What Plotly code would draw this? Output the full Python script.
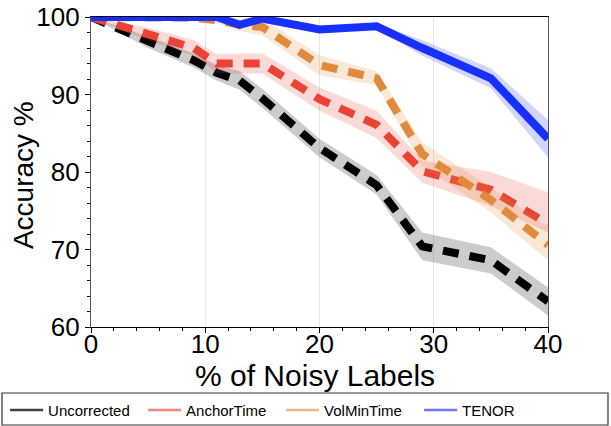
import plotly.graph_objects as go

noise = [0, 5, 9, 11, 13, 15, 20, 25, 29, 35, 40]

unc_mean = [100, 96.8, 94.4, 92.8, 91.8, 89.5, 83.1, 78.3, 70.4, 68.6, 63.3]
unc_up   = [100, 97.5, 95.3, 93.8, 93.0, 90.7, 84.3, 79.6, 72.2, 70.3, 65.1]
unc_lo   = [100, 96.0, 93.5, 91.8, 90.6, 88.3, 81.9, 77.1, 68.6, 66.9, 61.5]

anc_mean = [100, 97.8, 96.0, 94.0, 94.0, 94.0, 89.4, 86.1, 80.1, 77.7, 73.3]
anc_up   = [100, 98.6, 97.0, 95.2, 95.3, 95.3, 90.9, 87.9, 81.5, 80.0, 77.4]
anc_lo   = [100, 97.0, 95.0, 92.8, 92.7, 92.7, 87.9, 84.4, 78.6, 75.6, 72.2]

vol_mean = [100, 100, 99.9, 99.6, 99.0, 98.7, 93.8, 92.1, 82.3, 76.4, 70.6]
vol_up   = [100, 100, 100, 100, 99.8, 99.8, 95.1, 93.0, 83.8, 78.0, 72.9]
vol_lo   = [100, 100, 99.8, 99.2, 98.2, 97.6, 92.5, 91.2, 80.8, 74.8, 68.6]

ten_mean = [100, 100, 100, 100, 99.0, 99.8, 98.4, 98.8, 96.0, 92.1, 84.3]
ten_up   = [100, 100, 100, 100, 99.3, 100, 98.7, 99.1, 97.0, 93.4, 86.7]
ten_lo   = [100, 100, 100, 100, 98.7, 99.5, 98.1, 98.5, 95.0, 90.8, 81.9]

series_names = ["Uncorrected", "AnchorTime", "VolMinTime", "TENOR"]
x_ticks = [0, 10, 20, 30, 40]
y_ticks = [60, 70, 80, 90, 100]
x_title = "% of Noisy Labels"
y_title = "Accuracy %"

FONT = "Liberation Sans, Arial, sans-serif"

styles = [
    dict(mean=unc_mean, up=unc_up, lo=unc_lo, color="#000000", band="rgba(0,0,0,0.2)",
         dash="16px,11px", leg="#404040"),
    dict(mean=anc_mean, up=anc_up, lo=anc_lo, color="#ea4335", band="rgba(234,67,53,0.2)",
         dash="16px,11px", leg="#f08a80"),
    dict(mean=vol_mean, up=vol_up, lo=vol_lo, color="#e08a3c", band="rgba(224,138,60,0.2)",
         dash="16px,11px", leg="#f0b888"),
    dict(mean=ten_mean, up=ten_up, lo=ten_lo, color="#1730ff", band="rgba(23,48,255,0.2)",
         dash="solid", leg="#6a78ff"),
]

fig = go.Figure()
for name, s in zip(series_names, styles):
    fig.add_trace(go.Scatter(
        x=noise + noise[::-1], y=s["up"] + s["lo"][::-1], fill="toself",
        fillcolor=s["band"], line=dict(width=0), mode="lines",
        showlegend=False, hoverinfo="skip"))
    fig.add_trace(go.Scatter(
        x=noise, y=s["mean"], mode="lines",
        line=dict(color=s["color"], width=8, dash=s["dash"]),
        showlegend=False, name=name))

for name, s in zip(series_names, styles):
    fig.add_trace(go.Scatter(
        x=[None], y=[None], mode="lines", name=name,
        line=dict(color=s["leg"], width=2.5)))

fig.update_layout(
    width=611, height=426,
    margin=dict(l=91, r=63, t=17, b=99, autoexpand=False),
    paper_bgcolor="white", plot_bgcolor="white",
    font=dict(family=FONT, color="black"),
    showlegend=True,
    legend=dict(orientation="h", x=-0.188, xanchor="left", y=-0.215, yanchor="top",
                font=dict(size=15, family=FONT), bgcolor="rgba(0,0,0,0)",
                itemwidth=33, entrywidth=90, entrywidthmode="pixels", borderwidth=0),
    shapes=[dict(type="rect", xref="paper", yref="paper",
                 x0=(2 - 91) / 457, x1=(608 - 91) / 457,
                 y0=(327 - 425) / 310, y1=(327 - 393) / 310,
                 line=dict(color="#333333", width=1.2), fillcolor="rgba(0,0,0,0)")],
    annotations=[
        dict(text=x_title, xref="paper", yref="paper", x=0.49, y=(327 - 375) / 310,
             xanchor="center", yanchor="middle", showarrow=False,
             font=dict(size=30, family=FONT, color="black")),
        dict(text=y_title, xref="paper", yref="paper", x=(23 - 91) / 457, y=0.49,
             xanchor="center", yanchor="middle", showarrow=False, textangle=-90,
             font=dict(size=28, family=FONT, color="black")),
    ],
)

fig.update_xaxes(
    range=[0, 40], tickvals=x_ticks, ticktext=[str(v) for v in x_ticks],
    showgrid=True, gridcolor="#e6e6e6", gridwidth=1,
    zeroline=False, showline=True, linecolor="black", linewidth=1.2, mirror=True,
    ticks="outside", ticklen=5, tickcolor="black", tickwidth=1,
    minor=dict(dtick=2, ticks="outside", ticklen=3, tickcolor="black", showgrid=False),
    tickfont=dict(size=26, family=FONT), ticklabelstandoff=-11,
    automargin=False,
)
fig.update_yaxes(
    range=[60, 100], tickvals=y_ticks, ticktext=[str(v) for v in y_ticks],
    showgrid=False, zeroline=False, showline=True, linecolor="#555555", linewidth=1.2, mirror=True,
    ticks="outside", ticklen=5, tickcolor="black", tickwidth=1,
    minor=dict(dtick=2, ticks="outside", ticklen=3, tickcolor="black", showgrid=False),
    tickfont=dict(size=26, family=FONT),
    automargin=False,
)

fig.write_html("out.html")
